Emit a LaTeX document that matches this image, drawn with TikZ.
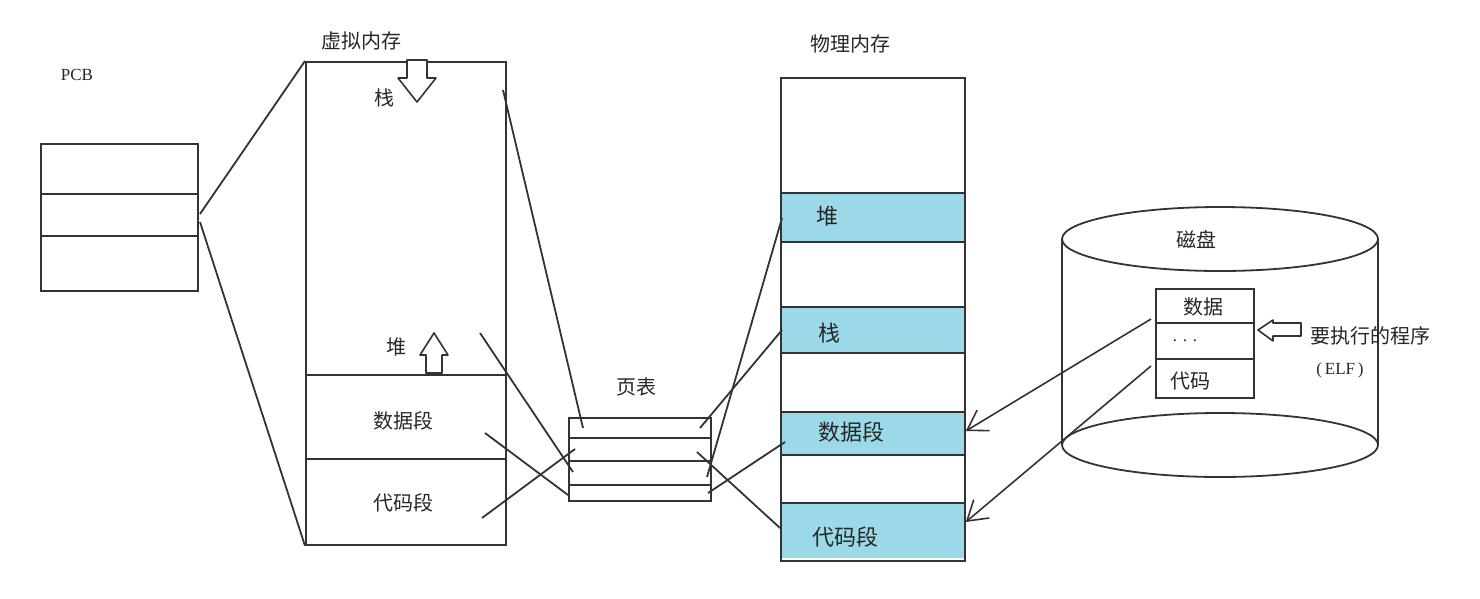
\documentclass[tikz,border=0pt]{standalone}
\usepackage{fontspec}
\setmainfont{Liberation Serif}
\newfontfamily\cjk{Noto Sans CJK SC}
\usetikzlibrary{arrows.meta}
\definecolor{bandblue}{HTML}{9BD8E8}
\definecolor{inkc}{HTML}{333333}
\tikzset{
  ln/.style={draw=inkc, line width=1.8pt},
  box/.style={ln, rectangle, inner sep=0pt, anchor=north west},
  bandbox/.style={rectangle, inner sep=0pt, anchor=north west, fill=bandblue, draw=none},
  cn/.style={font=\cjk\fontsize{20}{22}\selectfont, inner sep=0pt, text=black!85},
  cnbig/.style={font=\cjk\fontsize{22}{24}\selectfont, inner sep=0pt, text=black!85},
  lat/.style={font=\fontsize{17}{19}\selectfont, inner sep=0pt, text=black!85},
  hollow/.style={draw=inkc, line width=1.6pt, fill=white, line join=round},
  tip/.style={-{Straight Barb[length=19pt,width=24pt,line width=1.6pt]}, draw=inkc, line width=1.6pt},
}
\begin{document}
\begin{tikzpicture}[x=1pt,y=-1pt]
\useasboundingbox (0,0) rectangle (1480,598);

% ---------- PCB ----------
\node[lat] (pcbt) at (77,75) {PCB};
\node[box, minimum width=157pt, minimum height=147pt] (pcb) at (40,143) {};
\draw[ln] (pcb.west |- 0,194) -- (pcb.east |- 0,194);
\draw[ln] (pcb.west |- 0,236) -- (pcb.east |- 0,236);

% ---------- virtual memory ----------
\node[cn] (vmt) at (361,41) {虚拟内存};
\node[box, minimum width=200pt, minimum height=483pt] (vm) at (305,61) {};
\draw[ln] (vm.west |- 0,375) -- (vm.east |- 0,375);
\draw[ln] (vm.west |- 0,459) -- (vm.east |- 0,459);
\node[cn] (vstack) at (384,98) {栈};
\node[cn] (vheap) at (396,347) {堆};
\node[cn] (vdata) at (403,421) {数据段};
\node[cn] (vcode) at (403,503) {代码段};
% hollow arrows
\draw[hollow] (407,60) -- (427,60) -- (427,78) -- (436,78) -- (417,102) -- (398,78) -- (407,78) -- cycle;
\draw[hollow] (434,333) -- (448,355) -- (442,355) -- (442,373) -- (426,373) -- (426,355) -- (420,355) -- cycle;

% ---------- page table ----------
\node[cn] (ptt) at (636,387) {页表};
\node[box, minimum width=142pt, minimum height=83pt] (pt) at (568,417) {};
\draw[ln] (pt.west |- 0,438) -- (pt.east |- 0,438);
\draw[ln] (pt.west |- 0,461) -- (pt.east |- 0,461);
\draw[ln] (pt.west |- 0,485) -- (pt.east |- 0,485);

% ---------- physical memory ----------
\node[cn] (pmt) at (850,44) {物理内存};
\node[bandbox, minimum width=184pt, minimum height=49pt] (pheap) at (780,193) {};
\node[bandbox, minimum width=184pt, minimum height=46pt] (pstack) at (780,307) {};
\node[bandbox, minimum width=184pt, minimum height=43pt] (pdata) at (780,412) {};
\node[bandbox, minimum width=184pt, minimum height=55pt] (pcode) at (780,503) {};
\node[box, minimum width=184pt, minimum height=483pt] (pm) at (780,77) {};
\foreach \yy in {193,242,307,353,412,455,503}
  \draw[ln] (pm.west |- 0,\yy) -- (pm.east |- 0,\yy);
\node[cnbig] at (827,216) {堆};
\node[cnbig] at (829,333) {栈};
\node[cnbig] at (851,432) {数据段};
\node[cnbig] at (845,537) {代码段};

% ---------- disk ----------
\draw[ln] (1220,239) ellipse [x radius=158, y radius=32];
\draw[ln] (1220,445) ellipse [x radius=158, y radius=32];
\draw[ln] (1062,239) -- (1062,445);
\draw[ln] (1378,239) -- (1378,445);
\node[cn] (diskt) at (1196,240) {磁盘};
\node[box, fill=white, minimum width=98pt, minimum height=109pt] (elf) at (1155,288) {};
\draw[ln] (elf.west |- 0,323) -- (elf.east |- 0,323);
\draw[ln] (elf.west |- 0,359) -- (elf.east |- 0,359);
\node[cn] (edata) at (1203,307) {数据};
\node[lat] (edots) at (1185,341) {.\,\,.\,\,.};
\node[cn] (ecode) at (1190,381) {代码};
\draw[hollow] (1258,330) -- (1273,320) -- (1273,323) -- (1301,323) -- (1301,336) -- (1273,336) -- (1273,341) -- cycle;
\node[cn, anchor=west] (run) at (1310,336) {要执行的程序};
\node[lat] (elft) at (1340,370) {(\,ELF\,)};

% ---------- connectors ----------
\coordinate (pcbA) at (200,214);
\coordinate (pcbB) at (200,222);
\draw[ln] (pcbA) -- (vm.north west);
\draw[ln] (pcbB) -- (vm.south west);

\coordinate (vS) at (503,90);
\coordinate (vH) at (480,333);
\coordinate (vD) at (485,433);
\coordinate (vC) at (482,518);
\coordinate (p1l) at (583,428);
\coordinate (p2l) at (575,449);
\coordinate (p3l) at (573,472);
\coordinate (p4l) at (568,495);
\draw[ln] (vS) -- (p1l);
\draw[ln] (vH) -- (p3l);
\draw[ln] (vD) -- (p4l);
\draw[ln] (vC) -- (p2l);

\coordinate (p1r) at (700,428);
\coordinate (p2r) at (697,452);
\coordinate (p3r) at (707,477);
\coordinate (p4r) at (708,493);
\coordinate (mHeap) at (782,218);
\coordinate (mStack) at (782,330);
\coordinate (mData) at (785,442);
\coordinate (mCode) at (780,528);
\draw[ln] (p1r) -- (mStack);
\draw[ln] (p3r) -- (mHeap);
\draw[ln] (p2r) -- (mCode);
\draw[ln] (p4r) -- (mData);

\coordinate (eD) at (1151,319);
\coordinate (eC) at (1151,366);
\draw[tip] (eD) -- (pm.east |- 0,431);
\draw[tip] (eC) -- (pm.east |- 0,522);
\end{tikzpicture}
\end{document}
